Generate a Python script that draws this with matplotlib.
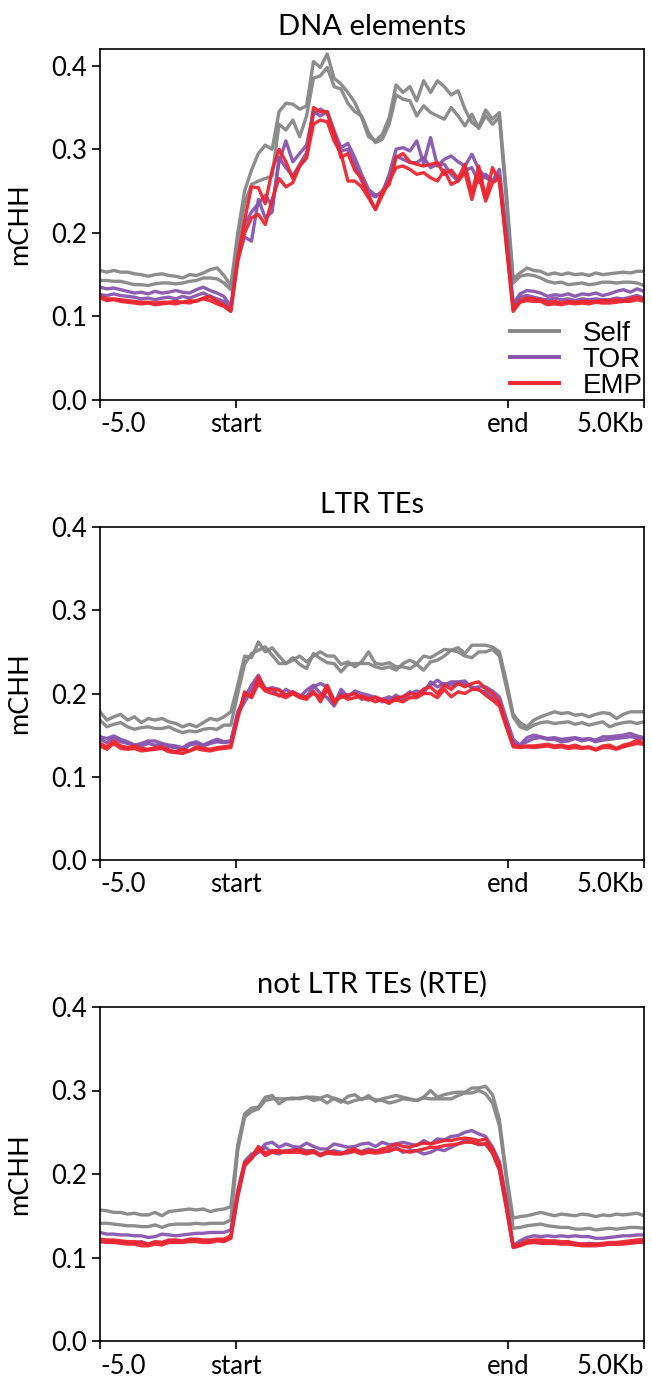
import numpy as np
import matplotlib
matplotlib.use("Agg")
import matplotlib.pyplot as plt
from matplotlib.font_manager import FontProperties
from matplotlib.lines import Line2D

# ---------------- data ----------------
titles = ["DNA elements", "LTR TEs", "not LTR TEs (RTE)"]
groups = ["Self", "TOR", "EMP"]
x_ticklabels = ["-5.0", "start", "end", "5.0Kb"]
y_ticks = [0.0, 0.1, 0.2, 0.3, 0.4]

# DNA elements (20 upstream bins, 40 body bins, 20 downstream bins)
dna_self_1 = [0.155,0.153,0.155,0.153,0.153,0.151,0.150,0.148,0.150,0.151,0.149,0.148,0.146,0.150,0.149,0.152,0.156,0.158,0.149,0.137,
              0.200,0.250,0.275,0.295,0.305,0.300,0.345,0.355,0.354,0.348,0.352,0.405,0.398,0.414,0.385,0.378,0.368,0.356,0.338,0.315,
              0.310,0.318,0.338,0.377,0.368,0.375,0.358,0.382,0.368,0.382,0.375,0.365,0.370,0.348,0.332,0.326,0.347,0.336,0.344,0.250,
              0.145,0.152,0.158,0.155,0.154,0.150,0.152,0.150,0.152,0.150,0.151,0.149,0.152,0.150,0.151,0.152,0.153,0.152,0.154,0.154]
dna_self_2 = [0.143,0.143,0.142,0.142,0.140,0.138,0.138,0.137,0.139,0.140,0.140,0.139,0.140,0.142,0.143,0.146,0.146,0.145,0.140,0.132,
              0.190,0.235,0.258,0.262,0.265,0.268,0.330,0.323,0.335,0.315,0.340,0.385,0.388,0.398,0.375,0.372,0.355,0.345,0.340,0.320,
              0.308,0.312,0.330,0.365,0.360,0.358,0.340,0.352,0.344,0.340,0.336,0.350,0.340,0.328,0.342,0.325,0.340,0.330,0.338,0.240,
              0.140,0.148,0.150,0.149,0.146,0.142,0.140,0.141,0.138,0.139,0.140,0.138,0.139,0.141,0.141,0.140,0.141,0.141,0.140,0.137]
dna_tor_1 = [0.135,0.133,0.134,0.132,0.130,0.128,0.129,0.127,0.130,0.128,0.129,0.131,0.129,0.128,0.132,0.135,0.131,0.128,0.124,0.112,
             0.170,0.210,0.225,0.235,0.245,0.232,0.285,0.310,0.285,0.295,0.305,0.345,0.340,0.345,0.322,0.302,0.307,0.290,0.270,0.252,
             0.245,0.248,0.270,0.300,0.302,0.298,0.310,0.283,0.314,0.280,0.288,0.292,0.285,0.280,0.294,0.276,0.266,0.262,0.276,0.200,
             0.115,0.127,0.131,0.130,0.128,0.124,0.126,0.125,0.127,0.124,0.127,0.126,0.128,0.125,0.127,0.130,0.132,0.129,0.133,0.130]
dna_tor_2 = [0.126,0.125,0.127,0.125,0.124,0.123,0.121,0.122,0.120,0.122,0.123,0.121,0.124,0.122,0.125,0.128,0.124,0.121,0.118,0.110,
             0.170,0.195,0.190,0.240,0.218,0.225,0.290,0.278,0.268,0.282,0.296,0.342,0.348,0.343,0.318,0.298,0.300,0.282,0.262,0.247,
             0.243,0.250,0.262,0.292,0.288,0.284,0.284,0.290,0.278,0.282,0.282,0.270,0.262,0.275,0.278,0.260,0.270,0.262,0.268,0.195,
             0.113,0.123,0.125,0.123,0.121,0.120,0.122,0.120,0.121,0.119,0.121,0.120,0.121,0.120,0.120,0.122,0.121,0.123,0.125,0.122]
dna_emp_1 = [0.124,0.121,0.121,0.120,0.119,0.118,0.117,0.117,0.116,0.117,0.117,0.118,0.117,0.119,0.118,0.122,0.124,0.118,0.114,0.107,
             0.170,0.215,0.255,0.254,0.235,0.275,0.300,0.285,0.265,0.280,0.290,0.350,0.345,0.345,0.320,0.290,0.295,0.275,0.265,0.245,
             0.228,0.250,0.258,0.290,0.295,0.285,0.282,0.280,0.282,0.284,0.270,0.275,0.265,0.282,0.248,0.280,0.242,0.278,0.262,0.190,
             0.108,0.119,0.122,0.121,0.120,0.117,0.118,0.116,0.118,0.117,0.118,0.118,0.118,0.119,0.119,0.120,0.119,0.121,0.123,0.120]
dna_emp_2 = [0.122,0.119,0.120,0.118,0.117,0.116,0.115,0.116,0.114,0.115,0.116,0.115,0.117,0.116,0.119,0.121,0.119,0.115,0.112,0.106,
             0.165,0.200,0.218,0.222,0.210,0.240,0.265,0.255,0.260,0.280,0.290,0.330,0.335,0.333,0.310,0.295,0.262,0.262,0.255,0.242,
             0.228,0.245,0.262,0.278,0.280,0.276,0.270,0.272,0.266,0.262,0.275,0.258,0.262,0.272,0.240,0.270,0.238,0.260,0.265,0.185,
             0.106,0.117,0.119,0.118,0.118,0.114,0.115,0.114,0.116,0.115,0.116,0.115,0.117,0.116,0.116,0.117,0.118,0.118,0.120,0.118]

# LTR TEs
ltr_self_1 = [0.178,0.168,0.172,0.175,0.168,0.172,0.165,0.170,0.168,0.170,0.166,0.164,0.160,0.163,0.160,0.165,0.170,0.168,0.172,0.178,
              0.210,0.245,0.243,0.262,0.250,0.255,0.245,0.236,0.240,0.245,0.238,0.245,0.250,0.245,0.245,0.235,0.238,0.232,0.238,0.250,
              0.236,0.235,0.237,0.232,0.232,0.230,0.235,0.228,0.238,0.240,0.245,0.252,0.255,0.248,0.258,0.258,0.258,0.256,0.250,0.215,
              0.175,0.165,0.160,0.168,0.172,0.175,0.178,0.176,0.177,0.174,0.175,0.172,0.175,0.177,0.176,0.170,0.175,0.178,0.178,0.178]
ltr_self_2 = [0.168,0.160,0.163,0.165,0.160,0.157,0.159,0.160,0.158,0.158,0.160,0.156,0.153,0.155,0.154,0.157,0.158,0.157,0.162,0.162,
              0.200,0.235,0.248,0.252,0.256,0.246,0.236,0.236,0.243,0.235,0.230,0.248,0.242,0.237,0.236,0.226,0.235,0.236,0.236,0.236,
              0.232,0.230,0.232,0.228,0.236,0.240,0.236,0.245,0.243,0.248,0.253,0.252,0.250,0.245,0.243,0.250,0.250,0.253,0.245,0.208,
              0.172,0.160,0.157,0.162,0.165,0.166,0.164,0.165,0.166,0.163,0.165,0.162,0.164,0.166,0.160,0.163,0.165,0.166,0.164,0.166]
ltr_tor_1 = [0.148,0.146,0.149,0.145,0.142,0.138,0.140,0.143,0.143,0.140,0.138,0.137,0.135,0.140,0.142,0.138,0.142,0.145,0.142,0.143,
             0.178,0.195,0.210,0.222,0.205,0.207,0.205,0.198,0.202,0.198,0.196,0.208,0.212,0.208,0.187,0.205,0.196,0.203,0.200,0.198,
             0.195,0.193,0.196,0.192,0.196,0.202,0.198,0.205,0.210,0.216,0.210,0.214,0.214,0.215,0.206,0.208,0.208,0.203,0.196,0.170,
             0.145,0.138,0.147,0.150,0.148,0.146,0.147,0.145,0.146,0.147,0.145,0.146,0.144,0.148,0.148,0.149,0.150,0.152,0.149,0.147]
ltr_tor_2 = [0.145,0.141,0.147,0.142,0.140,0.138,0.137,0.140,0.138,0.139,0.136,0.135,0.132,0.138,0.140,0.137,0.140,0.142,0.141,0.142,
             0.175,0.190,0.203,0.218,0.206,0.205,0.197,0.205,0.200,0.196,0.204,0.210,0.200,0.195,0.185,0.200,0.198,0.200,0.193,0.195,
             0.195,0.190,0.192,0.198,0.192,0.200,0.203,0.200,0.214,0.208,0.212,0.210,0.213,0.212,0.208,0.204,0.202,0.195,0.188,0.165,
             0.140,0.138,0.142,0.146,0.147,0.145,0.145,0.142,0.143,0.146,0.143,0.145,0.142,0.144,0.145,0.146,0.147,0.148,0.147,0.145]
ltr_emp_1 = [0.140,0.136,0.143,0.137,0.135,0.137,0.134,0.133,0.135,0.136,0.132,0.130,0.133,0.131,0.136,0.134,0.133,0.135,0.136,0.137,
             0.172,0.200,0.196,0.220,0.205,0.205,0.204,0.198,0.202,0.197,0.195,0.200,0.196,0.210,0.192,0.195,0.198,0.200,0.195,0.192,
             0.196,0.192,0.188,0.195,0.196,0.200,0.198,0.205,0.208,0.200,0.210,0.205,0.212,0.208,0.212,0.214,0.206,0.200,0.190,0.162,
             0.138,0.136,0.137,0.137,0.138,0.139,0.137,0.138,0.136,0.138,0.135,0.136,0.133,0.137,0.138,0.134,0.138,0.140,0.144,0.140]
ltr_emp_2 = [0.137,0.133,0.140,0.134,0.133,0.134,0.131,0.132,0.133,0.134,0.130,0.129,0.128,0.131,0.134,0.132,0.131,0.133,0.134,0.135,
             0.170,0.202,0.195,0.212,0.203,0.200,0.198,0.195,0.200,0.195,0.193,0.203,0.190,0.205,0.188,0.198,0.193,0.195,0.197,0.194,
             0.190,0.193,0.190,0.192,0.190,0.195,0.195,0.200,0.200,0.195,0.205,0.196,0.202,0.200,0.205,0.205,0.198,0.192,0.185,0.160,
             0.136,0.135,0.136,0.135,0.136,0.137,0.135,0.136,0.134,0.135,0.134,0.135,0.132,0.135,0.135,0.133,0.136,0.138,0.140,0.139]

# not LTR TEs (RTE)
rte_self_1 = [0.157,0.156,0.154,0.154,0.152,0.153,0.151,0.151,0.154,0.150,0.155,0.156,0.157,0.158,0.157,0.158,0.155,0.157,0.158,0.161,
              0.235,0.272,0.279,0.280,0.292,0.294,0.284,0.290,0.290,0.291,0.292,0.292,0.291,0.294,0.290,0.286,0.293,0.295,0.289,0.294,
              0.287,0.290,0.292,0.294,0.292,0.290,0.288,0.292,0.300,0.292,0.295,0.297,0.298,0.298,0.303,0.303,0.305,0.295,0.265,0.200,
              0.147,0.149,0.150,0.152,0.154,0.152,0.150,0.152,0.151,0.150,0.152,0.151,0.149,0.151,0.150,0.152,0.151,0.152,0.153,0.150]
rte_self_2 = [0.141,0.141,0.140,0.139,0.138,0.138,0.137,0.137,0.139,0.136,0.139,0.140,0.140,0.140,0.141,0.140,0.141,0.141,0.141,0.145,
              0.228,0.268,0.275,0.278,0.288,0.290,0.290,0.290,0.291,0.290,0.292,0.288,0.290,0.285,0.291,0.288,0.285,0.288,0.290,0.291,
              0.289,0.288,0.285,0.287,0.290,0.289,0.288,0.291,0.290,0.290,0.290,0.290,0.294,0.297,0.297,0.300,0.296,0.285,0.258,0.195,
              0.135,0.136,0.138,0.139,0.140,0.138,0.137,0.136,0.136,0.134,0.134,0.135,0.133,0.134,0.135,0.134,0.135,0.136,0.136,0.135]
rte_tor_1 = [0.130,0.128,0.128,0.127,0.127,0.126,0.126,0.124,0.125,0.128,0.127,0.126,0.127,0.128,0.129,0.129,0.130,0.130,0.130,0.133,
             0.180,0.215,0.224,0.226,0.236,0.238,0.232,0.236,0.233,0.232,0.237,0.233,0.230,0.230,0.236,0.234,0.232,0.233,0.236,0.237,
             0.233,0.238,0.235,0.236,0.238,0.236,0.234,0.240,0.236,0.242,0.241,0.245,0.246,0.250,0.252,0.248,0.245,0.232,0.215,0.170,
             0.114,0.120,0.124,0.126,0.125,0.126,0.125,0.126,0.125,0.126,0.125,0.125,0.123,0.123,0.124,0.125,0.126,0.126,0.127,0.127]
rte_tor_2 = [0.119,0.120,0.119,0.118,0.118,0.117,0.119,0.116,0.118,0.118,0.120,0.119,0.119,0.121,0.121,0.120,0.120,0.121,0.120,0.124,
             0.172,0.210,0.220,0.226,0.232,0.226,0.224,0.228,0.229,0.230,0.228,0.228,0.224,0.226,0.228,0.226,0.225,0.228,0.227,0.230,
             0.228,0.228,0.227,0.232,0.226,0.228,0.228,0.224,0.226,0.230,0.228,0.232,0.236,0.240,0.238,0.235,0.236,0.225,0.205,0.160,
             0.112,0.115,0.118,0.119,0.118,0.118,0.117,0.117,0.118,0.117,0.116,0.117,0.116,0.115,0.116,0.116,0.117,0.118,0.118,0.118]
rte_emp_1 = [0.122,0.121,0.121,0.120,0.119,0.119,0.118,0.116,0.119,0.118,0.121,0.121,0.120,0.122,0.122,0.121,0.121,0.122,0.122,0.126,
             0.178,0.213,0.220,0.233,0.225,0.228,0.228,0.227,0.228,0.229,0.226,0.228,0.222,0.227,0.226,0.224,0.228,0.230,0.226,0.228,
             0.227,0.230,0.232,0.236,0.233,0.232,0.235,0.237,0.236,0.238,0.240,0.240,0.242,0.243,0.242,0.240,0.242,0.230,0.212,0.165,
             0.114,0.116,0.120,0.121,0.121,0.120,0.120,0.119,0.119,0.117,0.116,0.116,0.116,0.117,0.118,0.118,0.119,0.120,0.121,0.122]
rte_emp_2 = [0.119,0.118,0.118,0.117,0.116,0.116,0.114,0.114,0.116,0.115,0.118,0.118,0.118,0.119,0.119,0.118,0.118,0.120,0.119,0.123,
             0.174,0.210,0.218,0.230,0.222,0.226,0.226,0.226,0.226,0.226,0.224,0.226,0.222,0.225,0.224,0.224,0.226,0.227,0.224,0.226,
             0.225,0.226,0.228,0.230,0.228,0.226,0.228,0.230,0.232,0.232,0.234,0.235,0.236,0.238,0.238,0.236,0.236,0.225,0.205,0.160,
             0.112,0.114,0.117,0.118,0.117,0.117,0.117,0.116,0.116,0.115,0.114,0.114,0.114,0.115,0.116,0.116,0.116,0.117,0.118,0.119]

panels = [
    {"Self": [dna_self_1, dna_self_2], "TOR": [dna_tor_1, dna_tor_2], "EMP": [dna_emp_1, dna_emp_2]},
    {"Self": [ltr_self_1, ltr_self_2], "TOR": [ltr_tor_1, ltr_tor_2], "EMP": [ltr_emp_1, ltr_emp_2]},
    {"Self": [rte_self_1, rte_self_2], "TOR": [rte_tor_1, rte_tor_2], "EMP": [rte_emp_1, rte_emp_2]},
]

# ---------------- style ----------------
colors = {"Self": "#878787", "TOR": "#8755ad", "EMP": "#ec2630"}
plt.rcParams["font.family"] = ["Lato", "DejaVu Sans"]

W, H = 652, 1384
fig = plt.figure(figsize=(W / 100, H / 100), dpi=100)

# axes boxes in pixels: (left, top, right, bottom)
boxes = [(100, 49, 644, 400), (100, 527, 644, 860), (100, 1007, 644, 1341)]
ylims = [(0, 0.42), (0, 0.4), (0, 0.4)]

n_bins = 80
bins = np.arange(n_bins)
tick_pos = [0, 19.75, 59.25, n_bins - 1]

for idx, (panel, title, box, ylim) in enumerate(zip(panels, titles, boxes, ylims)):
    l, t, r, b = box
    ax = fig.add_axes([l / W, 1 - b / H, (r - l) / W, (b - t) / H])
    for g in groups:
        for series in panel[g]:
            assert len(series) == n_bins
            ax.plot(bins, series, color=colors[g], lw=2.4, alpha=0.95)
    ax.set_xlim(0, n_bins - 1)
    ax.set_ylim(*ylim)
    ax.set_yticks(y_ticks)
    ax.set_yticklabels([f"{v:.1f}" for v in y_ticks])
    ax.set_xticks(tick_pos)
    labels = ax.set_xticklabels(x_ticklabels)
    labels[0].set_ha("left")
    labels[-1].set_ha("right")
    ax.tick_params(axis="both", labelsize=18.5, length=6, width=1.2, pad=3, color="black")
    for s in ax.spines.values():
        s.set_linewidth(1.2)
    ax.set_title(title, fontsize=21, pad=10)
    ax.set_ylabel("mCHH", fontsize=19.5)
    ax.yaxis.set_label_coords(-0.125, 0.5)
    if idx == 0:
        handles = [Line2D([], [], color=colors[g], lw=2.8) for g in groups]
        ax.legend(handles, groups, loc="lower right", frameon=False,
                  prop=FontProperties(family="Liberation Sans", size=20),
                  handlelength=1.75, handletextpad=0.85, labelspacing=0.0,
                  borderaxespad=0.05, borderpad=0.0)

fig.savefig("out.png", dpi=100)
